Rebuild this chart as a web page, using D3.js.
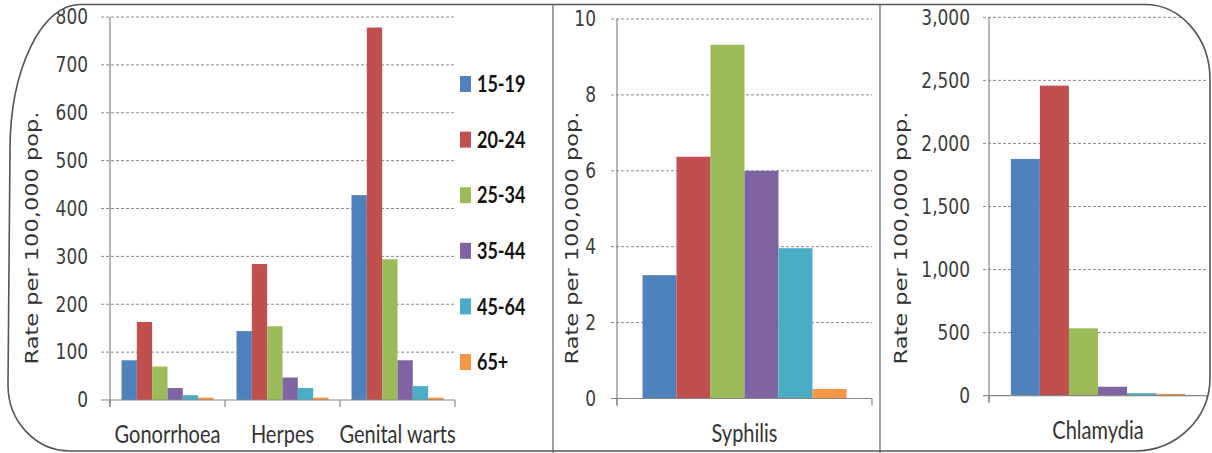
<!DOCTYPE html>
<html>
<head>
<meta charset="utf-8">
<script src="https://cdn.jsdelivr.net/npm/d3@7"></script>
<style>
  body { margin: 0; background: #fff; }
</style>
</head>
<body>
<div id="chart"></div>
<script>
// age groups (series) and colours
var ageGroups = ["15-19", "20-24", "25-34", "35-44", "45-64", "65+"];
var colors = ["#4f81bd", "#c0504d", "#9bbb59", "#8064a2", "#4bacc6", "#f79646"];

// left panel
var leftCats = ["Gonorrhoea", "Herpes", "Genital warts"];
var gonorrhoea = [83, 163, 70, 25, 10, 5];
var herpes = [144, 284, 154, 47, 25, 5];
var genitalWarts = [428, 778, 294, 83, 29, 5];
var leftTicks = [0, 100, 200, 300, 400, 500, 600, 700, 800];

// middle panel
var syphilis = [3.25, 6.37, 9.32, 6.0, 3.96, 0.25];
var syphTicks = [0, 2, 4, 6, 8, 10];

// right panel
var chlamydia = [1877, 2458, 534, 71, 20, 15];
var chlTicks = [0, 500, 1000, 1500, 2000, 2500, 3000];

var sy = 1.25; // the source picture is stretched vertically

var svg = d3.select("#chart").append("svg")
    .attr("width", 1212)
    .attr("height", 453);

var borderPath = "M80,4.5 L1145,4.5 A65,75 0 0 1 1210,80 L1210,378 A75,73 0 0 1 1135,451 " +
                 "L70,451 A62,66 0 0 1 8,385 L10,150 A70,145.5 0 0 1 80,4.5 Z";

svg.append("clipPath").attr("id", "frame")
  .append("path").attr("d", borderPath);

var root = svg.append("g").attr("clip-path", "url(#frame)");

function drawPanel(p) {
  var y = d3.scaleLinear().domain([0, p.max]).range([p.y0, p.y1]);
  var x0 = d3.scaleBand().domain(p.cats).range([p.xa, p.xb]).padding(0);
  var x1 = d3.scaleBand().domain(ageGroups).range([0, x0.bandwidth()])
      .paddingInner(0).paddingOuter(0.75);

  var g = root.append("g");

  // dashed gridlines
  g.selectAll(".grid")
    .data(p.ticks.filter(function(t) { return t > 0; }))
    .enter().append("line")
      .attr("x1", p.xa - p.tickLen)
      .attr("x2", p.gridEnd)
      .attr("y1", function(d) { return y(d); })
      .attr("y2", function(d) { return y(d); })
      .attr("stroke", "#8a8a8a")
      .attr("stroke-width", 1)
      .attr("stroke-dasharray", "3,2");

  // bars
  var groups = g.selectAll(".cat")
    .data(p.data)
    .enter().append("g")
      .attr("transform", function(d) { return "translate(" + x0(d.cat) + ",0)"; });

  groups.selectAll("rect")
    .data(function(d) { return d.values.map(function(v, i) { return {key: ageGroups[i], value: v, i: i}; }); })
    .enter().append("rect")
      .attr("x", function(d) { return x1(d.key); })
      .attr("y", function(d) { return y(d.value); })
      .attr("width", x1.bandwidth())
      .attr("height", function(d) { return p.y0 - y(d.value); })
      .attr("fill", function(d) { return colors[d.i]; });

  // y axis line + zero line
  g.append("line")
    .attr("x1", p.xa).attr("x2", p.xa)
    .attr("y1", y(p.max)).attr("y2", p.y0 + 7)
    .attr("stroke", "#868686").attr("stroke-width", 1.2);
  g.append("line")
    .attr("x1", p.xa - p.tickLen).attr("x2", p.xb)
    .attr("y1", p.y0).attr("y2", p.y0)
    .attr("stroke", "#868686").attr("stroke-width", 1.2);

  // category boundary ticks
  g.selectAll(".ctick")
    .data(p.cats.map(function(c) { return x0(c); }).concat([p.xb]))
    .enter().append("line")
      .attr("x1", function(d) { return d; })
      .attr("x2", function(d) { return d; })
      .attr("y1", p.y0).attr("y2", p.y0 + 7)
      .attr("stroke", "#868686").attr("stroke-width", 1.2);

  // y tick labels
  var ya = g.append("g")
    .attr("transform", "translate(" + p.xa + ",0)")
    .call(d3.axisLeft(y).tickValues(p.ticks).tickSize(0).tickPadding(p.labelGap).tickFormat(p.fmt));
  ya.select(".domain").remove();
  ya.selectAll("text")
    .attr("transform", "scale(1," + sy + ")")
    .attr("fill", "#3c3c3c")
    .style("font-family", "'DejaVu Sans', Verdana, sans-serif")
    .style("font-size", "17px");

  // category labels
  var xa = g.append("g")
    .attr("transform", "translate(0," + p.y0 + ")")
    .call(d3.axisBottom(x0).tickSize(0));
  xa.select(".domain").remove();
  xa.selectAll("text")
    .attr("y", 0).attr("dy", null)
    .attr("transform", "translate(0,43) scale(1," + sy + ")")
    .attr("fill", "#333")
    .style("font-family", "Lato, 'Open Sans', sans-serif")
    .style("font-size", "20px");

  // y title
  g.append("text")
    .attr("transform", "translate(" + p.titleX + ",238) scale(1," + sy + ") rotate(-90)")
    .attr("text-anchor", "middle")
    .attr("fill", "#333")
    .style("font-family", "'DejaVu Sans', Verdana, sans-serif")
    .style("font-size", "18px")
    .text("Rate per 100,000 pop.");
}

drawPanel({
  cats: leftCats,
  data: [
    {cat: leftCats[0], values: gonorrhoea},
    {cat: leftCats[1], values: herpes},
    {cat: leftCats[2], values: genitalWarts}
  ],
  max: 800, ticks: leftTicks, fmt: d3.format(","),
  y0: 400, y1: 17, xa: 110, xb: 455, gridEnd: 455, tickLen: 9,
  labelGap: 22, titleX: 38
});

drawPanel({
  cats: ["Syphilis"],
  data: [{cat: "Syphilis", values: syphilis}],
  max: 10, ticks: syphTicks, fmt: d3.format(","),
  y0: 398.5, y1: 19, xa: 617, xb: 872, gridEnd: 872, tickLen: 6,
  labelGap: 21, titleX: 578
});

drawPanel({
  cats: ["Chlamydia"],
  data: [{cat: "Chlamydia", values: chlamydia}],
  max: 3000, ticks: chlTicks, fmt: d3.format(","),
  y0: 395.7, y1: 17.3, xa: 989, xb: 1207, gridEnd: 1207, tickLen: 6,
  labelGap: 19, titleX: 907
});

// legend
var legend = svg.append("g");
ageGroups.forEach(function(a, i) {
  var cy = 84 + i * 55.6;
  legend.append("rect")
    .attr("x", 460).attr("y", cy - 8)
    .attr("width", 11).attr("height", 16)
    .attr("fill", colors[i]);
  legend.append("text")
    .attr("transform", "translate(477," + cy + ") scale(1," + sy + ")")
    .attr("dy", "0.36em")
    .attr("fill", "#111")
    .style("font-family", "Lato, sans-serif")
    .style("font-weight", "bold")
    .style("font-size", "18px")
    .text(a);
});

// panel dividers and rounded frame
[553, 880].forEach(function(x) {
  svg.append("line")
    .attr("x1", x).attr("x2", x).attr("y1", 4).attr("y2", 453)
    .attr("stroke", "#6e6e6e").attr("stroke-width", 1.3);
});
svg.append("path")
  .attr("d", borderPath)
  .attr("fill", "none")
  .attr("stroke", "#555")
  .attr("stroke-width", 1.6);
</script>
</body>
</html>
